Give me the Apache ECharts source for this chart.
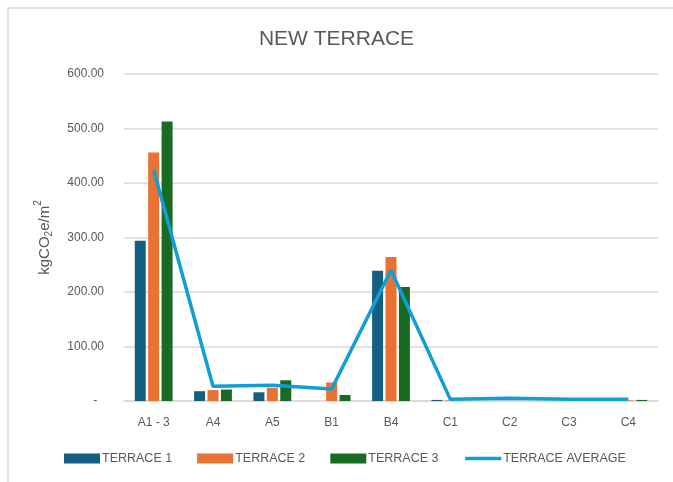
<!DOCTYPE html>
<html>
<head>
<meta charset="utf-8">
<title>NEW TERRACE</title>
<script src="https://cdn.jsdelivr.net/npm/echarts@6/dist/echarts.min.js"></script>
<style>
  html, body { margin: 0; padding: 0; background: #ffffff; }
  #chart { width: 673px; height: 482px; }
</style>
</head>
<body>
<div id="chart"></div>
<script>
// Embodied carbon per element, kgCO2e/m2
const categories = ['A1 - 3', 'A4', 'A5', 'B1', 'B4', 'C1', 'C2', 'C3', 'C4'];
const terrace1 = [294, 18, 16, 0, 239, 2, 0, 0, 0];
const terrace2 = [456, 20, 24, 34, 264, 1, 0, 0, 1];
const terrace3 = [513, 21, 38, 11, 209, 0, 0, 0, 2];
const terraceAverage = [424, 27, 29, 22, 240, 3, 5, 3, 3];
const yTicks = [0, 100, 200, 300, 400, 500, 600];

const textColor = '#595959';
const gridColor = '#d9d9d9';
const fontFamily = 'Liberation Sans, Arial, sans-serif';

const chart = echarts.init(document.getElementById('chart'), null, { renderer: 'canvas' });

const barSeries = (name, data, color) => ({
  name: name,
  type: 'bar',
  data: data,
  barWidth: 11,
  barGap: '22%',
  itemStyle: { color: color },
  emphasis: { disabled: true }
});

chart.setOption({
  animation: false,
  backgroundColor: '#ffffff',
  textStyle: { fontFamily: fontFamily },
  graphic: [{
    type: 'rect',
    shape: { x: 8, y: 8, width: 700, height: 500 },
    style: { fill: 'none', stroke: gridColor, lineWidth: 1.5 },
    silent: true,
    z: -1
  }],
  title: {
    text: 'NEW TERRACE',
    left: 'center',
    top: 24,
    textStyle: { color: textColor, fontSize: 21, fontWeight: 'normal', fontFamily: fontFamily }
  },
  legend: {
    bottom: 12,
    left: 59,
    itemWidth: 36,
    itemHeight: 10,
    itemGap: 25,
    textStyle: { color: textColor, fontSize: 12.5, fontFamily: fontFamily, padding: [0, 0, 0, -3] },
    data: [
      { name: 'TERRACE 1', icon: 'rect' },
      { name: 'TERRACE 2', icon: 'rect' },
      { name: 'TERRACE 3', icon: 'rect' },
      { name: 'TERRACE AVERAGE', itemStyle: { opacity: 0 }, lineStyle: { width: 3.5 } }
    ]
  },
  grid: { left: 124, right: 15, top: 74, bottom: 81 },
  xAxis: {
    type: 'category',
    data: categories,
    axisLine: { lineStyle: { color: gridColor, width: 1.5 } },
    axisTick: { show: false },
    axisLabel: { color: textColor, fontSize: 12, margin: 16 }
  },
  yAxis: {
    type: 'value',
    min: yTicks[0],
    max: yTicks[yTicks.length - 1],
    interval: 100,
    name: '{a|kgCO}{sub|2}{a|e/m}{sup|2}',
    nameLocation: 'middle',
    nameRotate: 90,
    nameGap: 64,
    nameTextStyle: {
      color: textColor,
      rich: {
        a: { fontSize: 15, color: textColor, fontFamily: fontFamily, lineHeight: 24, verticalAlign: 'middle' },
        sub: { fontSize: 10, color: textColor, fontFamily: fontFamily, lineHeight: 24, verticalAlign: 'bottom', padding: [0, 0, 2, 0] },
        sup: { fontSize: 10, color: textColor, fontFamily: fontFamily, lineHeight: 24, verticalAlign: 'top', padding: [1, 0, 0, 0] }
      }
    },
    axisLine: { show: false },
    axisTick: { show: false },
    splitLine: { lineStyle: { color: gridColor, width: 1.5 } },
    axisLabel: {
      color: textColor,
      fontSize: 12,
      margin: 20,
      formatter: v => (v === 0 ? '-  ' : v.toFixed(2))
    }
  },
  series: [
    barSeries('TERRACE 1', terrace1, '#156082'),
    barSeries('TERRACE 2', terrace2, '#E97132'),
    barSeries('TERRACE 3', terrace3, '#196B24'),
    {
      name: 'TERRACE AVERAGE',
      type: 'line',
      data: terraceAverage,
      symbol: 'none',
      lineStyle: { color: '#0F9ED5', width: 3.5 },
      itemStyle: { color: '#0F9ED5' },
      z: 5,
      emphasis: { disabled: true }
    }
  ]
});
</script>
</body>
</html>
